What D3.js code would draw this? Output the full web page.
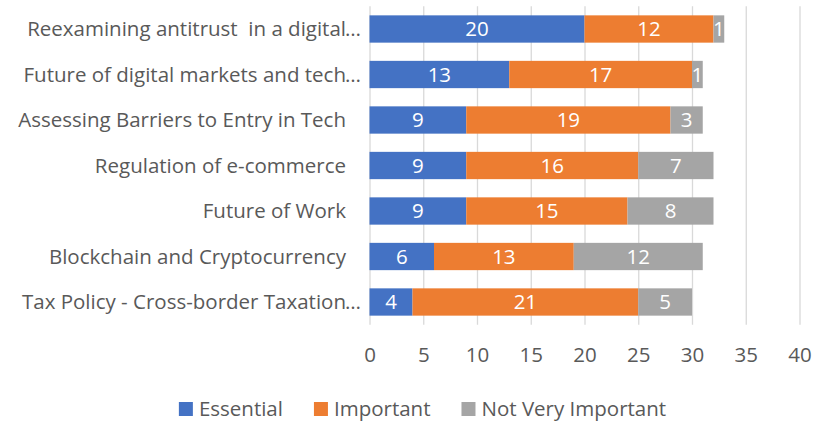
<!DOCTYPE html>
<html>
<head>
<meta charset="utf-8">
<script src="https://cdn.jsdelivr.net/npm/d3@7"></script>
<style>
  body { margin: 0; background: #fff; }
  text { font-family: "Open Sans", sans-serif; white-space: pre; }
</style>
</head>
<body>
<div id="chart"></div>
<script>
const W = 825, H = 427;
const PLOT = { LEFT: 369.5, RIGHT: 799.5, TOP: 6.25, BOTTOM: 324.75 };
const FONT = 20.5;

// data, top to bottom
const categories = [
  "Reexamining antitrust  in a digital…",
  "Future of digital markets and tech…",
  "Assessing Barriers to Entry in Tech",
  "Regulation of e-commerce",
  "Future of Work",
  "Blockchain and Cryptocurrency",
  "Tax Policy - Cross-border Taxation…"
];
const essential    = [20, 13, 9, 9, 9, 6, 4];
const important    = [12, 17, 19, 16, 15, 13, 21];
const notImportant = [1, 1, 3, 7, 8, 12, 5];
const seriesNames  = ["Essential", "Important", "Not Very Important"];
const colors       = ["#4472C4", "#ED7D31", "#A5A5A5"];
const xTicks       = [0, 5, 10, 15, 20, 25, 30, 35, 40];

const rows = categories.map((c, i) => ({
  cat: c,
  "Essential": essential[i],
  "Important": important[i],
  "Not Very Important": notImportant[i]
}));

const svg = d3.select("#chart").append("svg")
  .attr("width", W).attr("height", H);

const x = d3.scaleLinear().domain([0, 40]).range([PLOT.LEFT, PLOT.RIGHT]);
const y = d3.scaleBand().domain(categories)
  .range([PLOT.TOP, PLOT.BOTTOM])
  .paddingInner(0.4).paddingOuter(0.2);

// x axis with gridlines
const xAxis = svg.append("g")
  .attr("transform", `translate(0,${PLOT.BOTTOM})`)
  .call(d3.axisBottom(x).tickValues(xTicks)
    .tickSize(-(PLOT.BOTTOM - PLOT.TOP)).tickPadding(23));
xAxis.select(".domain").remove();
xAxis.selectAll("line").attr("stroke", "#D9D9D9").attr("stroke-width", 1.3);
xAxis.selectAll("text")
  .attr("fill", "#595959")
  .style("font-size", FONT + "px")
  .style("font-family", "'Open Sans', sans-serif");

// stacked bars
const stacked = d3.stack().keys(seriesNames)(rows);
const layer = svg.selectAll(".layer")
  .data(stacked).enter().append("g")
  .attr("class", "layer")
  .attr("fill", (d, i) => colors[i]);

layer.selectAll("rect")
  .data(d => d).enter().append("rect")
  .attr("x", d => x(d[0]))
  .attr("y", d => y(d.data.cat))
  .attr("width", d => x(d[1]) - x(d[0]))
  .attr("height", y.bandwidth());

// data labels
layer.selectAll("text")
  .data(d => d).enter().append("text")
  .attr("x", d => (x(d[0]) + x(d[1])) / 2)
  .attr("y", d => y(d.data.cat) + y.bandwidth() / 2)
  .attr("dy", "0.36em")
  .attr("text-anchor", "middle")
  .attr("fill", "#fff")
  .style("font-size", FONT + "px")
  .text(d => d[1] - d[0]);

// category labels (ellipsis hangs past the right edge like Excel does)
const catG = svg.append("g");
categories.forEach(c => {
  const cut = c.endsWith("…");
  const yy = y(c) + y.bandwidth() / 2;
  catG.append("text")
    .attr("x", 346).attr("y", yy).attr("dy", "0.36em")
    .attr("text-anchor", "end")
    .attr("fill", "#595959")
    .style("font-size", FONT + "px")
    .text(cut ? c.slice(0, -1) : c);
  if (cut) {
    catG.append("text")
      .attr("x", 345).attr("y", yy).attr("dy", "0.36em")
      .attr("fill", "#595959")
      .style("font-size", FONT + "px")
      .text("…");
  }
});

// legend
const legend = svg.append("g");
let lx = 0;
seriesNames.forEach((name, i) => {
  const g = legend.append("g").attr("transform", `translate(${lx},0)`);
  g.append("rect").attr("x", 0).attr("y", -7).attr("width", 14).attr("height", 14)
    .attr("fill", colors[i]);
  const t = g.append("text").attr("x", 20).attr("dy", "0.36em")
    .attr("fill", "#595959")
    .style("font-size", FONT + "px")
    .text(name);
  lx += 20 + t.node().getComputedTextLength() + 31;
});
const legW = lx - 31;
legend.attr("transform", `translate(${(177 + 668) / 2 - legW / 2},409)`);
</script>
</body>
</html>
